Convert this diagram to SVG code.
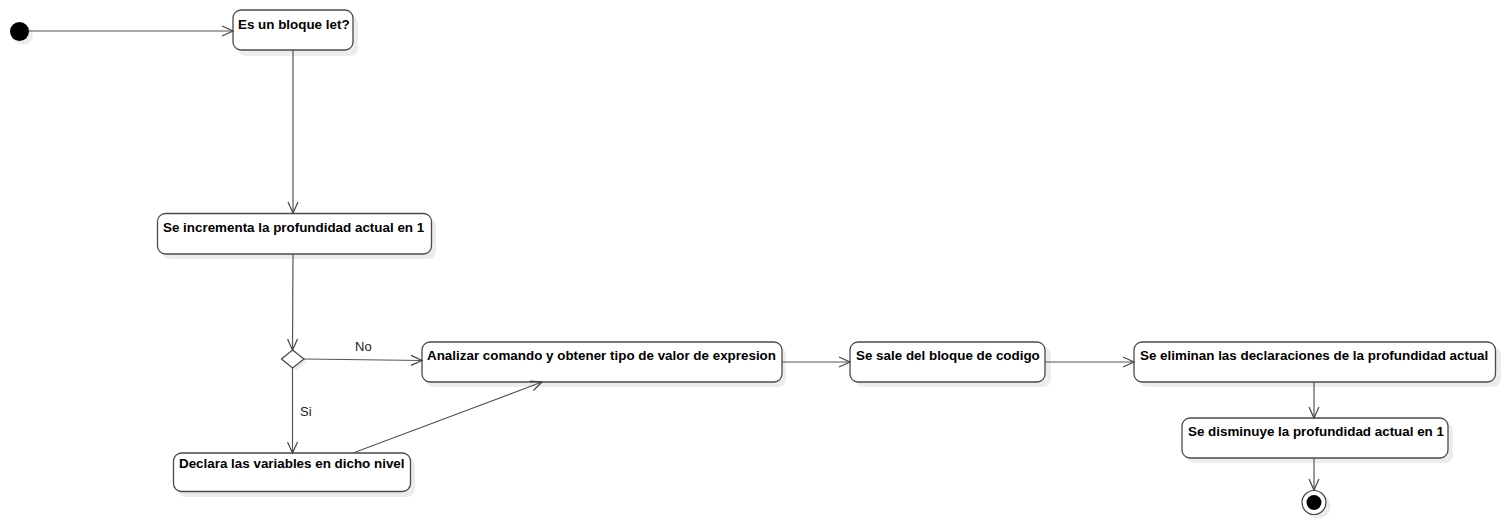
<svg xmlns="http://www.w3.org/2000/svg" width="1505" height="525" viewBox="0 0 1505 525">
<defs>
<style>
.box{fill:#fff;stroke:#4a4a4a;stroke-width:1.3}
.sh{fill:#ececec;stroke:none}
.lbl{font-family:"Liberation Sans",Arial,sans-serif;font-size:13.4px;font-weight:bold;fill:#000}
.guard{font-family:"Liberation Sans",Arial,sans-serif;font-size:13px;fill:#222}
.edge{fill:none;stroke:#555;stroke-width:1.2;marker-end:url(#arr)}
</style>
<marker id="arr" markerWidth="14" markerHeight="12" refX="12" refY="6" orient="auto" markerUnits="userSpaceOnUse">
<polyline points="1,1 12,6 1,11" fill="none" stroke="#444" stroke-width="1.2"/>
</marker>
</defs>
<rect width="1505" height="525" fill="#fff"/>
<g id="start">
<circle class="sh" cx="23" cy="35" r="10"/>
<circle cx="19.5" cy="31.5" r="9.5" fill="#000"/>
</g>
<g id="n1">
<rect class="sh" x="238" y="15" width="120" height="41" rx="8"/>
<rect class="box" x="233" y="10" width="120" height="40" rx="8"/>
<text class="lbl" x="238" y="28.5">Es un bloque let?</text>
</g>
<g id="n2">
<rect class="sh" x="162" y="218" width="274" height="41" rx="8"/>
<rect class="box" x="157.5" y="213.5" width="274" height="40.5" rx="8"/>
<text class="lbl" x="163" y="231.5">Se incrementa la profundidad actual en 1</text>
</g>
<g id="decision">
<polygon class="sh" points="296,353 307,362 296,371 285,362"/>
<polygon class="box" points="292.5,350 304,359 292.5,368 281.5,359"/>
</g>
<g id="n3">
<rect class="sh" x="426" y="347" width="360" height="40" rx="8"/>
<rect class="box" x="422" y="342" width="360" height="40" rx="8"/>
<text class="lbl" x="427" y="360">Analizar comando y obtener tipo de valor de expresion</text>
</g>
<g id="n4">
<rect class="sh" x="178" y="458" width="237" height="39" rx="8"/>
<rect class="box" x="173.5" y="453" width="237" height="38.5" rx="8"/>
<text class="lbl" x="179" y="467.5">Declara las variables en dicho nivel</text>
</g>
<g id="n5">
<rect class="sh" x="855" y="347" width="196" height="40" rx="8"/>
<rect class="box" x="850" y="342" width="195" height="40" rx="8"/>
<text class="lbl" x="856" y="360">Se sale del bloque de codigo</text>
</g>
<g id="n6">
<rect class="sh" x="1139" y="347" width="362" height="40" rx="8"/>
<rect class="box" x="1134" y="342" width="361.5" height="40" rx="8"/>
<text class="lbl" x="1140" y="360">Se eliminan las declaraciones de la profundidad actual</text>
</g>
<g id="n7">
<rect class="sh" x="1187" y="423" width="266" height="40" rx="8"/>
<rect class="box" x="1182" y="418" width="266" height="40" rx="8"/>
<text class="lbl" x="1188" y="436">Se disminuye la profundidad actual en 1</text>
</g>
<g id="end">
<circle class="sh" cx="1318" cy="506" r="12.5"/>
<circle cx="1314" cy="502.5" r="12" fill="#fff" stroke="#444" stroke-width="1.2"/>
<circle cx="1314" cy="502.5" r="7.5" fill="#000"/>
</g>
<g id="connectors">
<line class="edge" x1="29" y1="31" x2="233" y2="31"/>
<line class="edge" x1="293" y1="50" x2="293" y2="213"/>
<line class="edge" x1="293" y1="254" x2="292.5" y2="350"/>
<line class="edge" x1="304" y1="359" x2="422" y2="360.5"/>
<line class="edge" x1="292.5" y1="368" x2="292.5" y2="453"/>
<line class="edge" x1="353" y1="453" x2="542" y2="382"/>
<line class="edge" x1="782" y1="362" x2="850" y2="362"/>
<line class="edge" x1="1045" y1="362" x2="1134" y2="362"/>
<line class="edge" x1="1314" y1="382" x2="1314" y2="418"/>
<line class="edge" x1="1314" y1="458" x2="1314" y2="490"/>
<text class="guard" x="355" y="351">No</text>
<text class="guard" x="300" y="416">Si</text>
</g>
</svg>
